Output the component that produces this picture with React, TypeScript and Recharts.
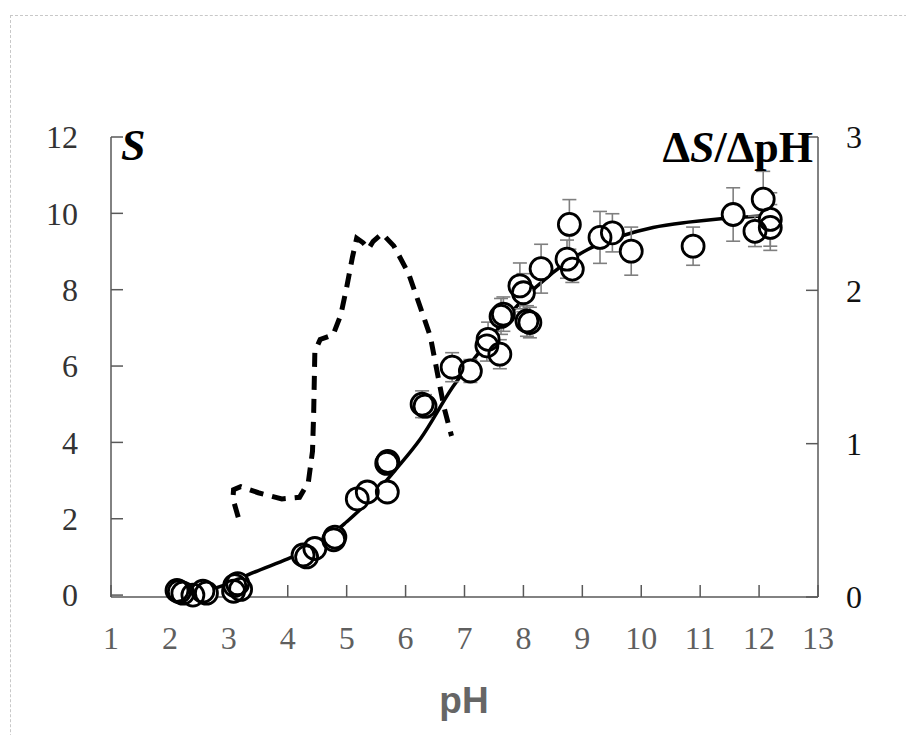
import { ComposedChart, Scatter, Line, XAxis, YAxis, ErrorBar } from "recharts";

// measured S with error bars
const obsPH = [2.12, 2.16, 2.22, 2.39, 2.56, 2.62, 3.08, 3.1, 3.15, 3.2, 4.26, 4.32, 4.46, 4.78, 4.8, 5.18, 5.35, 5.69, 5.68, 5.7, 6.28, 6.33, 6.79, 7.1, 7.38, 7.4, 7.6, 7.62, 7.66, 7.94, 8.0, 8.06, 8.11, 8.3, 8.74, 8.78, 8.83, 9.3, 9.51, 9.83, 10.88, 11.56, 11.93, 12.07, 12.19, 12.19];
const obsS = [0.12, 0.09, 0.05, 0.0, 0.1, 0.05, 0.1, 0.25, 0.3, 0.15, 1.05, 1.0, 1.22, 1.45, 1.52, 2.52, 2.7, 2.7, 3.45, 3.5, 5.0, 4.95, 5.97, 5.87, 6.53, 6.7, 6.31, 7.3, 7.36, 8.1, 7.92, 7.18, 7.14, 8.55, 8.8, 9.71, 8.54, 9.37, 9.49, 9.01, 9.14, 9.97, 9.53, 10.37, 9.84, 9.63];
const obsErr = [0.05, 0.05, 0.05, 0.05, 0.05, 0.05, 0.1, 0.1, 0.1, 0.1, 0.15, 0.15, 0.15, 0.2, 0.2, 0.25, 0.25, 0.25, 0.25, 0.25, 0.35, 0.3, 0.38, 0.3, 0.4, 0.45, 0.38, 0.47, 0.45, 0.6, 0.5, 0.4, 0.4, 0.64, 0.5, 0.65, 0.35, 0.68, 0.5, 0.63, 0.5, 0.7, 0.4, 0.73, 0.7, 0.6];

// fitted curve
const fitPH = [2.15, 2.6, 3.0, 3.4, 4.0, 4.5, 5.0, 5.4, 5.8, 6.25, 6.8, 7.4, 7.95, 8.5, 9.1, 9.65, 10.2, 10.8, 11.35, 11.9, 12.2];
const fitS = [0.05, 0.12, 0.3, 0.58, 0.95, 1.3, 1.92, 2.5, 3.23, 4.09, 5.45, 6.65, 7.67, 8.45, 9.06, 9.4, 9.63, 9.77, 9.86, 9.92, 9.95];

// dS/dpH (right axis)
const slopePH = [3.16, 3.07, 3.08, 3.2, 3.5, 3.9, 4.2, 4.35, 4.42, 4.44, 4.46, 4.55, 4.77, 4.9, 5.0, 5.1, 5.17, 5.28, 5.37, 5.45, 5.6, 5.8, 6.05, 6.25, 6.42, 6.52, 6.65, 6.78];
const slopeD = [0.52, 0.64, 0.7, 0.72, 0.68, 0.64, 0.65, 0.75, 0.95, 1.2, 1.6, 1.68, 1.71, 1.84, 2.02, 2.22, 2.34, 2.31, 2.27, 2.32, 2.37, 2.29, 2.11, 1.89, 1.7, 1.5, 1.24, 1.05];

const xTicks = [1, 2, 3, 4, 5, 6, 7, 8, 9, 10, 11, 12, 13];
const sTicks = [0, 2, 4, 6, 8, 10, 12];
const dTicks = [0, 1, 2, 3];

const observed = obsPH.map((pH, i) => ({ pH, S: obsS[i], err: obsErr[i] }));
const fit = fitPH.map((pH, i) => ({ pH, S: fitS[i] }));
const slope = slopePH.map((pH, i) => ({ pH, D: slopeD[i] }));

const AXIS = "#595959";
const serif = "'Liberation Serif', 'Times New Roman', serif";

const Nothing = () => <g />;
const Disc = (p: any) => <circle cx={p.cx} cy={p.cy} r={11} fill="#fff" stroke="none" />;
const Ring = (p: any) => <circle cx={p.cx} cy={p.cy} r={11} fill="none" stroke="#000" strokeWidth={2.8} />;

export default function App() {
  return (
    <div style={{ position: "absolute", left: 0, top: 0, width: 906, height: 735, overflow: "hidden", background: "#fff" }}>
      <div style={{ position: "absolute", left: 10, top: 15, width: 1000, height: 900, border: "1px dashed #c8c8c8" }} />
      <div style={{ position: "absolute", left: 0, top: 0 }}>
        <ComposedChart width={906} height={735} margin={{ top: 137, right: 28, bottom: 78, left: 51 }}>
          <XAxis
            dataKey="pH"
            type="number"
            domain={[1, 13]}
            ticks={xTicks}
            interval={0}
            height={60}
            tickSize={-12}
            tickMargin={41}
            axisLine={{ stroke: AXIS, strokeWidth: 1.5 }}
            tickLine={{ stroke: AXIS, strokeWidth: 1.5 }}
            tick={{ fill: "#5f5f5f", fontSize: 32, fontFamily: serif }}
          />
          <YAxis
            yAxisId="left"
            type="number"
            domain={[0, 12]}
            ticks={sTicks}
            interval={0}
            width={60}
            tickSize={-12}
            tickMargin={45}
            axisLine={{ stroke: AXIS, strokeWidth: 1.5 }}
            tickLine={{ stroke: AXIS, strokeWidth: 1.5 }}
            tick={{ fill: "#333", fontSize: 32, fontFamily: serif }}
          />
          <YAxis
            yAxisId="right"
            orientation="right"
            type="number"
            domain={[0, 3]}
            ticks={dTicks}
            interval={0}
            width={60}
            tickSize={-12}
            tickMargin={40}
            axisLine={{ stroke: AXIS, strokeWidth: 1.5 }}
            tickLine={{ stroke: AXIS, strokeWidth: 1.5 }}
            tick={{ fill: "#111", fontSize: 32, fontFamily: serif }}
          />
          <Scatter
            yAxisId="right"
            data={slope}
            dataKey="D"
            shape={Nothing}
            line={{ stroke: "#000", strokeWidth: 5, strokeDasharray: "14 9" }}
            isAnimationActive={false}
          />
          <Line
            yAxisId="left"
            data={fit}
            dataKey="S"
            type="monotone"
            stroke="#000"
            strokeWidth={3.5}
            dot={false}
            isAnimationActive={false}
          />
          <Scatter yAxisId="left" data={observed} dataKey="S" shape={Nothing} isAnimationActive={false}>
            <ErrorBar dataKey="err" direction="y" width={7} stroke="#7f7f7f" strokeWidth={1.6} />
          </Scatter>
          <Scatter yAxisId="left" data={observed} dataKey="S" shape={Disc} isAnimationActive={false} />
          <Scatter yAxisId="left" data={observed} dataKey="S" shape={Ring} isAnimationActive={false} />
        </ComposedChart>
      </div>
      <div style={{ position: "absolute", left: 121, top: 124, fontFamily: serif, fontSize: 44, fontWeight: "bold", fontStyle: "italic", lineHeight: 1 }}>
        S
      </div>
      <div style={{ position: "absolute", left: 540, width: 273, top: 126, textAlign: "right", fontFamily: serif, fontSize: 44, fontWeight: "bold", lineHeight: 1, whiteSpace: "nowrap" }}>
        Δ<i>S</i>/ΔpH
      </div>
      <div style={{ position: "absolute", left: 364, width: 200, top: 682, textAlign: "center", fontFamily: "'Liberation Sans', Arial, sans-serif", fontSize: 37, fontWeight: "bold", color: "#666", lineHeight: 1 }}>
        pH
      </div>
    </div>
  );
}
